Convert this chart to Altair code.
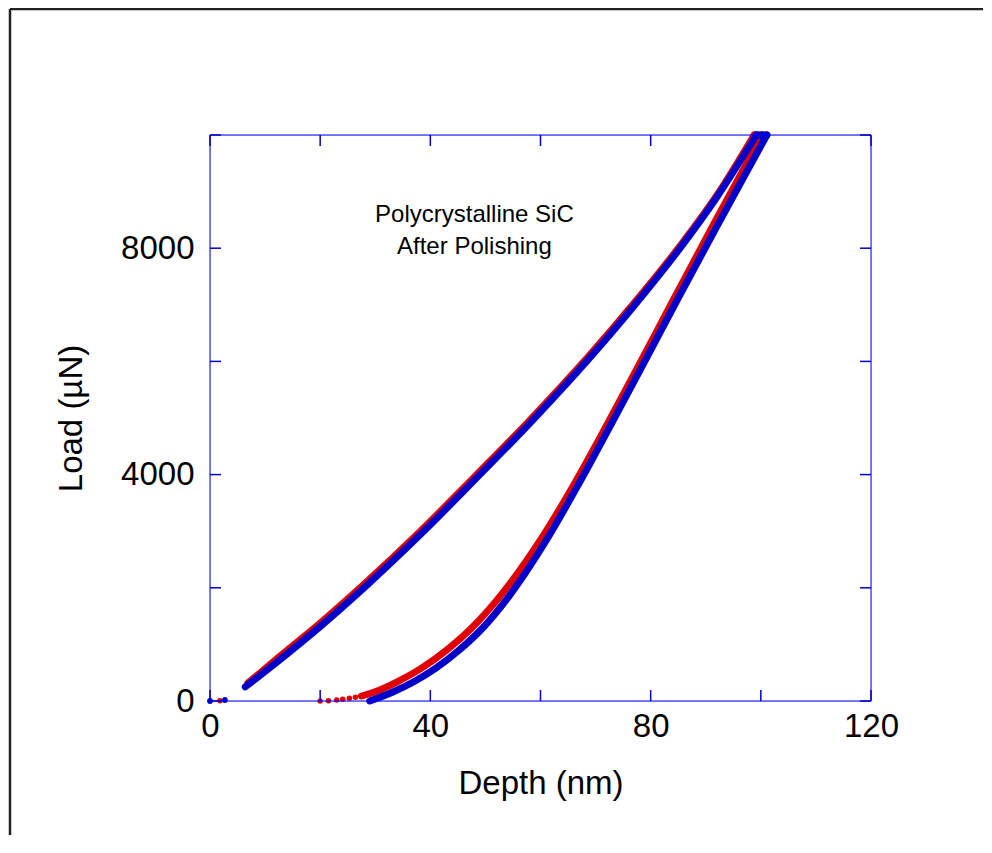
import altair as alt
import pandas as pd

# ---- data ----
blue_load_d = [6.4, 12.0, 20.0, 28.3, 38.0, 48.0, 58.0, 68.6, 77.0, 85.3, 92.0, 99.2]
blue_load_L = [250, 676, 1316, 2030, 2922, 3902, 4902, 6026, 6984, 7997, 8901, 10000]
blue_unload_d = [101.1, 97.7, 92.0, 85.0, 78.1, 72.6, 67.2, 60.8, 54.5, 49.5, 45.0, 41.0, 37.0, 33.0, 29.0]
blue_unload_L = [10000, 9400, 8380, 7120, 5850, 4850, 3880, 2800, 1880, 1290, 880, 580, 340, 150, 0]

red_load_d = [6.9, 12.0, 20.0, 28.3, 38.0, 48.0, 58.0, 68.6, 77.0, 85.3, 92.0, 98.8]
red_load_L = [318, 735, 1375, 2090, 2980, 3960, 4955, 6075, 7030, 8035, 8930, 10000]
red_unload_d = [100.3, 96.9, 91.2, 84.3, 77.4, 71.9, 66.4, 59.7, 52.9, 47.5, 42.7, 38.4, 34.0, 29.6, 27.5]
red_unload_L = [10000, 9400, 8380, 7120, 5850, 4850, 3880, 2800, 1880, 1290, 880, 580, 340, 150, 88]

red_dots_d = [1.8, 20.0, 21.5, 23.0, 24.1, 25.3, 26.4]
red_dots_L = [5, 0, 6, 18, 30, 48, 65]
blue_dots_d = [0.0, 2.7]
blue_dots_L = [0, 18]

x_major = [0, 40, 80, 120]
x_ticks = [0, 20, 40, 60, 80, 100, 120]
y_major = [0, 4000, 8000]
y_ticks = [0, 2000, 4000, 6000, 8000, 10000]

notes = ["Polycrystalline SiC", "After Polishing"]
note_d = [48.0, 48.0]
note_L = [8590, 8020]

RED = "#e00000"
BLUE = "#0000c8"
AX = "#0000cc"
FONT = "Liberation Sans"
W, H = 661, 566


def curve(ld, lL, ud, uL):
    rows = [{"d": d, "L": L, "seg": "load"} for d, L in zip(ld, lL)]
    rows += [{"d": ld[-1], "L": lL[-1], "seg": "hold"}, {"d": ud[0], "L": uL[0], "seg": "hold"}]
    rows += [{"d": d, "L": L, "seg": "unload"} for d, L in zip(ud, uL)]
    return pd.DataFrame(rows)


xs = alt.Scale(domain=[0, 120], nice=False, zero=False)
ys = alt.Scale(domain=[0, 10000], nice=False, zero=False)

xax = alt.Axis(values=x_major, format="d", ticks=False, domain=False, grid=False,
               labelFlush=False, labelOverlap=False,
               labelFontSize=33, labelFont=FONT, labelColor="black", labelPadding=9,
               title="Depth (nm)", titleFontSize=33, titleFont=FONT, titleFontWeight="normal",
               titleColor="black", titlePadding=24)
yax = alt.Axis(values=y_major, format="d", ticks=False, domain=False, grid=False,
               labelFlush=False, labelOverlap=False,
               labelFontSize=33, labelFont=FONT, labelColor="black", labelPadding=16,
               title="Load (µN)", titleFontSize=33, titleFont=FONT, titleFontWeight="normal",
               titleColor="black", titlePadding=32)

red_df = curve(red_load_d, red_load_L, red_unload_d, red_unload_L)
blue_df = curve(blue_load_d, blue_load_L, blue_unload_d, blue_unload_L)

red_line = alt.Chart(red_df).mark_line(color=RED, strokeWidth=7, strokeCap="round", strokeJoin="round",
                                       interpolate="monotone").encode(
    x=alt.X("d:Q", scale=xs, axis=xax), y=alt.Y("L:Q", scale=ys, axis=yax), detail="seg:N")
blue_line = alt.Chart(blue_df).mark_line(color=BLUE, strokeWidth=7, strokeCap="round", strokeJoin="round",
                                         interpolate="monotone").encode(
    x=alt.X("d:Q", scale=xs), y=alt.Y("L:Q", scale=ys), detail="seg:N")

red_pts = alt.Chart(pd.DataFrame({"d": red_dots_d, "L": red_dots_L})).mark_circle(
    color=RED, size=30, opacity=1).encode(x=alt.X("d:Q", scale=xs), y=alt.Y("L:Q", scale=ys))
blue_pts = alt.Chart(pd.DataFrame({"d": blue_dots_d, "L": blue_dots_L})).mark_circle(
    color=BLUE, size=34, opacity=1).encode(x=alt.X("d:Q", scale=xs), y=alt.Y("L:Q", scale=ys))

# plot frame (blue)
fr = pd.DataFrame({"a": [0]})
f_top = alt.Chart(fr).mark_rule(color="#0000ff", strokeWidth=1).encode(
    x=alt.value(0), x2=alt.value(W), y=alt.value(0))
f_bot = alt.Chart(fr).mark_rule(color="#0000ff", strokeWidth=1).encode(
    x=alt.value(0), x2=alt.value(W), y=alt.value(H))
f_left = alt.Chart(fr).mark_rule(color="#0000ff", strokeWidth=1).encode(
    x=alt.value(0), y=alt.value(0), y2=alt.value(H))
f_right = alt.Chart(fr).mark_rule(color="#0000ff", strokeWidth=1).encode(
    x=alt.value(W), y=alt.value(0), y2=alt.value(H))

xt = pd.DataFrame({"v": x_ticks})
yt = pd.DataFrame({"v": y_ticks})
tb = alt.Chart(xt).mark_rule(color=AX, strokeWidth=1.5).encode(
    x=alt.X("v:Q", scale=xs), y=alt.value(H), y2=alt.value(H - 11))
tt = alt.Chart(xt).mark_rule(color=AX, strokeWidth=1.5).encode(
    x=alt.X("v:Q", scale=xs), y=alt.value(0), y2=alt.value(11))
tl = alt.Chart(yt).mark_rule(color=AX, strokeWidth=1.5).encode(
    y=alt.Y("v:Q", scale=ys), x=alt.value(0), x2=alt.value(11))
tr = alt.Chart(yt).mark_rule(color=AX, strokeWidth=1.5).encode(
    y=alt.Y("v:Q", scale=ys), x=alt.value(W), x2=alt.value(W - 11))

note = alt.Chart(pd.DataFrame({"t": notes, "d": note_d, "L": note_L})).mark_text(
    font=FONT, fontSize=24, color="black", align="center", baseline="middle").encode(
    x=alt.X("d:Q", scale=xs), y=alt.Y("L:Q", scale=ys), text="t:N")

# outer page frame (decorative)
frame_top = alt.Chart(fr).mark_rule(color="#222222", strokeWidth=2.5).encode(
    x=alt.value(-200), x2=alt.value(800), y=alt.value(-126))
frame_left = alt.Chart(fr).mark_rule(color="#222222", strokeWidth=2.5).encode(
    x=alt.value(-200), y=alt.value(-126), y2=alt.value(760))

chart = alt.layer(red_line, blue_line, frame_top, frame_left, red_pts, blue_pts,
                  f_top, f_bot, f_left, f_right, tb, tt, tl, tr, note).properties(
    width=W, height=H,
    padding={"left": 202, "top": 127, "right": 112, "bottom": 134},
    autosize=alt.AutoSizeParams(type="none"),
).configure_view(strokeWidth=0).configure(background="white")

chart.save("out.html", embed_options={"renderer": "svg", "actions": False})
